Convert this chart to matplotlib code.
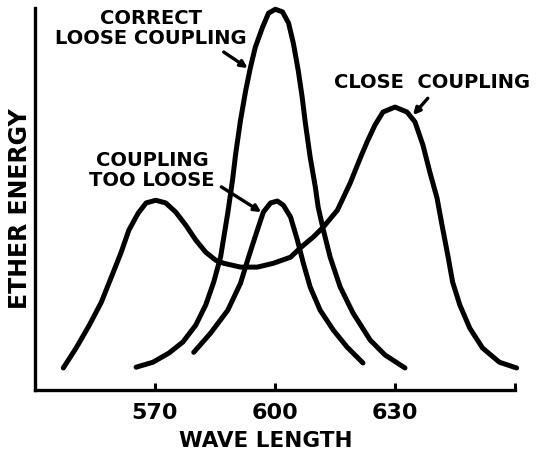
import matplotlib.pyplot as plt
import numpy as np

# ===================== 数据=====================
# 波长 / 相对能量（0~100）
close_x = [547.1, 550.3, 553.6, 556.6, 559.0, 561.5, 563.5, 565.8, 567.8, 570.2,
           572.7, 575.2, 577.7, 580.2, 582.7, 585.2, 587.2, 591.4, 595.6, 599.6,
           603.9, 606.3, 609.6, 612.1, 615.6, 618.8, 621.3, 623.0, 625.0, 627.0,
           630.0, 633.0, 635.0, 637.0, 638.7, 640.5, 641.9, 643.2, 644.4, 646.2,
           648.7, 651.9, 656.1, 660.4]
close_y = [5.8, 11.0, 17.0, 23.0, 29.3, 35.9, 41.9, 46.3, 49.0, 49.7,
           49.0, 46.6, 43.2, 39.3, 36.1, 34.0, 33.2, 32.2, 32.2, 33.2,
           34.8, 37.2, 40.1, 42.7, 47.1, 54.2, 60.7, 64.9, 69.4, 72.8,
           74.1, 72.8, 70.2, 64.1, 57.1, 50.3, 42.4, 35.3, 28.3, 22.3,
           16.2, 11.0, 7.3, 5.8]

correct_x = [565.3, 569.5, 573.5, 577.0, 580.2, 582.7, 584.7, 586.4, 588.2, 589.4,
             590.2, 591.4, 592.7, 593.9, 595.1, 596.9, 598.4, 600.1, 601.9, 603.4,
             604.6, 605.8, 606.8, 607.6, 608.8, 610.1, 610.8, 612.1, 613.8, 616.3,
             619.5, 623.8, 627.5, 632.5]
correct_y = [6.0, 7.3, 9.7, 12.6, 17.0, 22.3, 28.3, 34.8, 46.3, 55.0,
             62.0, 70.7, 78.5, 84.6, 89.8, 95.0, 98.7, 99.7, 99.0, 96.1,
             90.8, 83.8, 76.7, 69.9, 61.0, 53.1, 47.9, 41.9, 34.8, 27.0,
             20.2, 13.1, 9.2, 5.8]

loose_x = [579.7, 583.9, 588.2, 591.4, 593.4, 595.6, 597.1, 598.9, 600.6, 602.1,
           603.9, 605.6, 607.1, 608.8, 611.3, 614.6, 618.0, 622.0]
loose_y = [9.9, 14.9, 20.9, 28.0, 34.8, 41.9, 46.6, 49.0, 49.5, 48.4,
           45.3, 39.3, 33.2, 27.0, 20.9, 15.7, 11.3, 7.1]

tick_vals = [570, 600, 630, 660]
tick_labels = ['570', '600', '630', '']

# ===================== 绘图 =====================
plt.rcParams['font.family'] = ['DejaVu Sans']
plt.rcParams['font.weight'] = 'bold'

fig = plt.figure(figsize=(5.45, 4.51), dpi=100)
ax = fig.add_axes([0.064, 0.135, 0.881, 0.847])

line_kw = dict(color='black', linewidth=3.6, solid_capstyle='round',
               solid_joinstyle='round', clip_on=False)
ax.plot(close_x, close_y, **line_kw)
ax.plot(correct_x, correct_y, **line_kw)
ax.plot(loose_x, loose_y, **line_kw)

ax.set_xlim(540, 660)
ax.set_ylim(0, 100)

# 坐标轴样式
for s in ['top', 'right']:
    ax.spines[s].set_visible(False)
ax.spines['left'].set_linewidth(2.4)
ax.spines['bottom'].set_linewidth(2.4)
ax.set_xticks(tick_vals)
ax.set_xticklabels(tick_labels, fontsize=16, fontweight='bold',
                   family=['Liberation Sans Narrow', 'DejaVu Sans'])
ax.set_yticks([])
ax.tick_params(axis='x', direction='in', length=5, width=2.2, pad=9)

ax.set_xlabel('WAVE LENGTH', fontsize=15.5, fontweight='heavy')
ax.xaxis.set_label_coords(0.481, -0.108)
ax.set_ylabel('ETHER ENERGY', fontsize=17, fontweight='heavy')
ax.yaxis.set_label_coords(-0.006, 0.476)

# 注释文字 + 箭头
txt_kw = dict(fontsize=14, fontweight='heavy', ha='center', va='center',
              linespacing=1.1)
arrow_kw = dict(arrowstyle='-|>', color='black', lw=2.4, mutation_scale=10,
                shrinkA=0, shrinkB=0)

ax.text(569.0, 94.6, 'CORRECT\nLOOSE COUPLING', **txt_kw)
ax.annotate('', xy=(593.2, 84.3), xytext=(587.2, 88.5), arrowprops=arrow_kw)

ax.text(569.3, 57.5, 'COUPLING\nTOO LOOSE', **txt_kw)
ax.annotate('', xy=(596.6, 46.6), xytext=(586.6, 53.2), arrowprops=arrow_kw)

ax.text(639.2, 80.6, 'CLOSE  COUPLING', **txt_kw)
ax.annotate('', xy=(634.5, 72.0), xytext=(638.2, 76.4), arrowprops=arrow_kw)

plt.savefig('out.png', dpi=100)
